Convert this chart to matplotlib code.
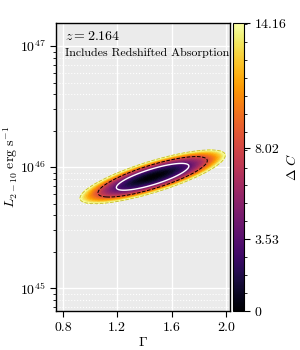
import numpy as np
import matplotlib
matplotlib.use("Agg")
import matplotlib.pyplot as plt

plt.rcParams['font.family'] = 'serif'
plt.rcParams['font.serif'] = ['cmr10', 'DejaVu Serif']
plt.rcParams['mathtext.fontset'] = 'cm'
plt.rcParams['axes.formatter.use_mathtext'] = True
plt.rcParams['axes.unicode_minus'] = False

# best-fit parameters and uncertainties
gamma_best = 1.46
logL_best = 45.92
sigma_gamma = 0.142
sigma_logL = 0.059
rho = 0.795

levels_sigma = [3.53, 8.02, 14.16]
cbar_ticks = [0, 3.53, 8.02, 14.16]
xticks = [0.8, 1.2, 1.6, 2.0]
redshift_label = r'$z = 2.164$'
note_label = 'Includes Redshifted Absorption'

g = np.linspace(0.75, 2.05, 400)
l = np.linspace(44.8, 47.2, 600)
G, LL = np.meshgrid(g, l)
dg = (G - gamma_best) / sigma_gamma
dl = (LL - logL_best) / sigma_logL
dC = (dg**2 - 2 * rho * dg * dl + dl**2) / (1 - rho**2)
L = 10**LL

fig = plt.figure(figsize=(3.0, 3.5), dpi=100)
ax = fig.add_axes([0.187, 0.111, 0.580, 0.823])
cax = fig.add_axes([0.777, 0.111, 0.037, 0.823])

ax.set_facecolor('#EBEBEB')
ax.set_yscale('log')
ax.set_xlim(0.75, 2.03)
ax.set_ylim(10**44.81, 10**47.19)
ax.grid(True, which='major', color='white', lw=1.0, ls='-')
ax.grid(True, which='minor', axis='y', color='white', lw=0.8, ls=':')
ax.set_axisbelow(True)

cf = ax.contourf(G, L, dC, levels=np.linspace(0, 14.16, 60), cmap='inferno',
                 vmin=0, vmax=14.16)
ax.contour(G, L, dC, levels=[levels_sigma[0]], colors='white', linewidths=1.0, linestyles='-')
ax.contour(G, L, dC, levels=[levels_sigma[1]], colors='black', linewidths=0.7, linestyles='--')
ax.contour(G, L, dC, levels=[levels_sigma[2]], colors='#c8c040', linewidths=0.7, linestyles='--')

ax.set_xticks(xticks)
ax.set_xticklabels(['0.8', '1.2', '1.6', '2.0'])
ax.tick_params(axis='both', which='major', labelsize=10, direction='out', length=4, color='black')
ax.tick_params(axis='y', which='minor', direction='out', length=2)
ax.tick_params(axis='x', which='minor', bottom=False)
for s in ax.spines.values():
    s.set_color('black')
    s.set_linewidth(1.0)

ax.set_xlabel(r'$\Gamma$', fontsize=10, labelpad=2)
ax.set_ylabel(r'$L_{2-10}\ \mathrm{erg\ s^{-1}}$', fontsize=10, labelpad=0)

ax.text(0.05, 0.975, redshift_label, transform=ax.transAxes, fontsize=10, va='top', ha='left')
ax.text(0.05, 0.915, note_label, transform=ax.transAxes, fontsize=8.6, va='top', ha='left')

sm = matplotlib.cm.ScalarMappable(norm=matplotlib.colors.Normalize(0, 14.16), cmap='inferno')
cb = fig.colorbar(sm, cax=cax)
cb.set_ticks(cbar_ticks)
cb.set_ticklabels(['0', '3.53', '8.02', '14.16'])
cb.ax.minorticks_on()
cb.ax.tick_params(labelsize=10, direction='out', length=4)
cb.ax.tick_params(which='minor', length=2)
cb.set_label(r'$\Delta\ C$', fontsize=10, labelpad=-1)
cb.outline.set_edgecolor('black')

fig.savefig('out.png', dpi=100)
